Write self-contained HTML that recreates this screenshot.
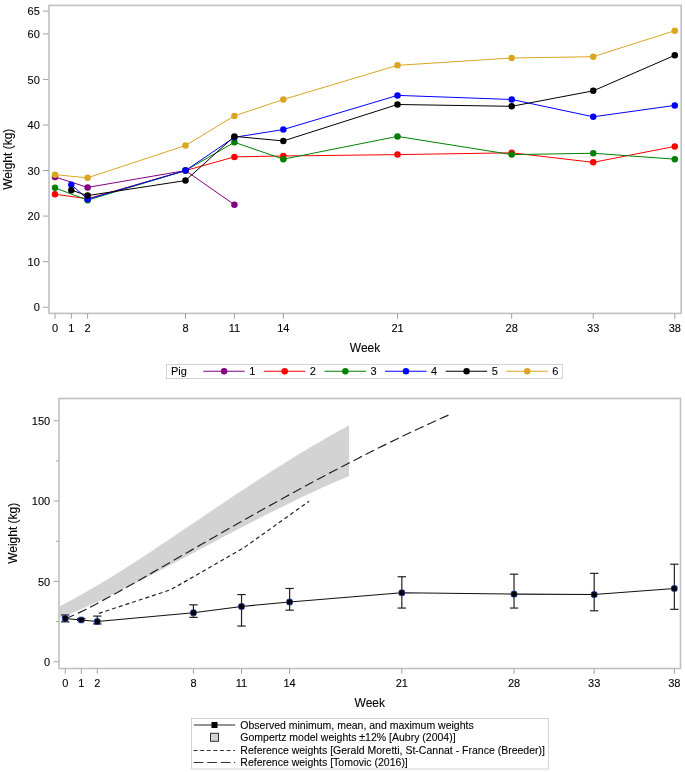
<!DOCTYPE html>
<html><head><meta charset="utf-8"><style>
html,body{margin:0;padding:0;background:#fff;}
body{width:685px;height:772px;overflow:hidden;}
svg{display:block;font-family:"Liberation Sans", sans-serif;will-change:transform;}
svg text{fill:#000;stroke:#000;stroke-width:0.1px;}
</style></head><body>
<svg width="685" height="772" viewBox="0 0 685 772">
<rect x="49.0" y="5.4" width="632.2" height="308.0" fill="none" stroke="#bcc0c6" stroke-width="1.6"/>
<line x1="43" y1="307.20" x2="48.5" y2="307.20" stroke="#9da2a8" stroke-width="1"/>
<text x="39.8" y="311.30" font-size="11" text-anchor="end">0</text>
<line x1="43" y1="261.65" x2="48.5" y2="261.65" stroke="#9da2a8" stroke-width="1"/>
<text x="39.8" y="265.75" font-size="11" text-anchor="end">10</text>
<line x1="43" y1="216.10" x2="48.5" y2="216.10" stroke="#9da2a8" stroke-width="1"/>
<text x="39.8" y="220.20" font-size="11" text-anchor="end">20</text>
<line x1="43" y1="170.55" x2="48.5" y2="170.55" stroke="#9da2a8" stroke-width="1"/>
<text x="39.8" y="174.65" font-size="11" text-anchor="end">30</text>
<line x1="43" y1="125.00" x2="48.5" y2="125.00" stroke="#9da2a8" stroke-width="1"/>
<text x="39.8" y="129.10" font-size="11" text-anchor="end">40</text>
<line x1="43" y1="79.45" x2="48.5" y2="79.45" stroke="#9da2a8" stroke-width="1"/>
<text x="39.8" y="83.55" font-size="11" text-anchor="end">50</text>
<line x1="43" y1="33.90" x2="48.5" y2="33.90" stroke="#9da2a8" stroke-width="1"/>
<text x="39.8" y="38.00" font-size="11" text-anchor="end">60</text>
<line x1="43" y1="11.12" x2="48.5" y2="11.12" stroke="#9da2a8" stroke-width="1"/>
<text x="39.8" y="15.22" font-size="11" text-anchor="end">65</text>
<line x1="55.00" y1="313.4" x2="55.00" y2="318.8" stroke="#9da2a8" stroke-width="1"/>
<text x="55.00" y="332.3" font-size="11" text-anchor="middle">0</text>
<line x1="71.31" y1="313.4" x2="71.31" y2="318.8" stroke="#9da2a8" stroke-width="1"/>
<text x="71.31" y="332.3" font-size="11" text-anchor="middle">1</text>
<line x1="87.62" y1="313.4" x2="87.62" y2="318.8" stroke="#9da2a8" stroke-width="1"/>
<text x="87.62" y="332.3" font-size="11" text-anchor="middle">2</text>
<line x1="185.48" y1="313.4" x2="185.48" y2="318.8" stroke="#9da2a8" stroke-width="1"/>
<text x="185.48" y="332.3" font-size="11" text-anchor="middle">8</text>
<line x1="234.41" y1="313.4" x2="234.41" y2="318.8" stroke="#9da2a8" stroke-width="1"/>
<text x="234.41" y="332.3" font-size="11" text-anchor="middle">11</text>
<line x1="283.34" y1="313.4" x2="283.34" y2="318.8" stroke="#9da2a8" stroke-width="1"/>
<text x="283.34" y="332.3" font-size="11" text-anchor="middle">14</text>
<line x1="397.51" y1="313.4" x2="397.51" y2="318.8" stroke="#9da2a8" stroke-width="1"/>
<text x="397.51" y="332.3" font-size="11" text-anchor="middle">21</text>
<line x1="511.68" y1="313.4" x2="511.68" y2="318.8" stroke="#9da2a8" stroke-width="1"/>
<text x="511.68" y="332.3" font-size="11" text-anchor="middle">28</text>
<line x1="593.23" y1="313.4" x2="593.23" y2="318.8" stroke="#9da2a8" stroke-width="1"/>
<text x="593.23" y="332.3" font-size="11" text-anchor="middle">33</text>
<line x1="674.78" y1="313.4" x2="674.78" y2="318.8" stroke="#9da2a8" stroke-width="1"/>
<text x="674.78" y="332.3" font-size="11" text-anchor="middle">38</text>
<text x="365" y="352" font-size="12" text-anchor="middle">Week</text>
<text transform="translate(12.3,159.2) rotate(-90)" font-size="12" text-anchor="middle">Weight (kg)</text>
<polyline points="55.00,176.93 87.62,187.40 185.48,170.55 234.41,204.71" fill="none" stroke="#800080" stroke-width="1.0"/>
<circle cx="55.00" cy="176.93" r="3.25" fill="#800080"/>
<circle cx="87.62" cy="187.40" r="3.25" fill="#800080"/>
<circle cx="185.48" cy="170.55" r="3.25" fill="#800080"/>
<circle cx="234.41" cy="204.71" r="3.25" fill="#800080"/>
<polyline points="55.00,194.24 87.62,198.79 185.48,170.55 234.41,156.88 283.34,155.97 397.51,154.61 511.68,152.79 593.23,162.35 674.78,146.41" fill="none" stroke="#ff0000" stroke-width="1.0"/>
<circle cx="55.00" cy="194.24" r="3.25" fill="#ff0000"/>
<circle cx="87.62" cy="198.79" r="3.25" fill="#ff0000"/>
<circle cx="185.48" cy="170.55" r="3.25" fill="#ff0000"/>
<circle cx="234.41" cy="156.88" r="3.25" fill="#ff0000"/>
<circle cx="283.34" cy="155.97" r="3.25" fill="#ff0000"/>
<circle cx="397.51" cy="154.61" r="3.25" fill="#ff0000"/>
<circle cx="511.68" cy="152.79" r="3.25" fill="#ff0000"/>
<circle cx="593.23" cy="162.35" r="3.25" fill="#ff0000"/>
<circle cx="674.78" cy="146.41" r="3.25" fill="#ff0000"/>
<polyline points="55.00,187.86 87.62,200.16 185.48,170.55 234.41,142.31 283.34,159.16 397.51,136.39 511.68,154.61 593.23,153.24 674.78,159.16" fill="none" stroke="#008000" stroke-width="1.0"/>
<circle cx="55.00" cy="187.86" r="3.25" fill="#008000"/>
<circle cx="87.62" cy="200.16" r="3.25" fill="#008000"/>
<circle cx="185.48" cy="170.55" r="3.25" fill="#008000"/>
<circle cx="234.41" cy="142.31" r="3.25" fill="#008000"/>
<circle cx="283.34" cy="159.16" r="3.25" fill="#008000"/>
<circle cx="397.51" cy="136.39" r="3.25" fill="#008000"/>
<circle cx="511.68" cy="154.61" r="3.25" fill="#008000"/>
<circle cx="593.23" cy="153.24" r="3.25" fill="#008000"/>
<circle cx="674.78" cy="159.16" r="3.25" fill="#008000"/>
<polyline points="71.31,184.67 87.62,199.25 185.48,170.55 234.41,137.30 283.34,129.56 397.51,95.39 511.68,99.49 593.23,116.80 674.78,105.41" fill="none" stroke="#0000ff" stroke-width="1.0"/>
<circle cx="71.31" cy="184.67" r="3.25" fill="#0000ff"/>
<circle cx="87.62" cy="199.25" r="3.25" fill="#0000ff"/>
<circle cx="185.48" cy="170.55" r="3.25" fill="#0000ff"/>
<circle cx="234.41" cy="137.30" r="3.25" fill="#0000ff"/>
<circle cx="283.34" cy="129.56" r="3.25" fill="#0000ff"/>
<circle cx="397.51" cy="95.39" r="3.25" fill="#0000ff"/>
<circle cx="511.68" cy="99.49" r="3.25" fill="#0000ff"/>
<circle cx="593.23" cy="116.80" r="3.25" fill="#0000ff"/>
<circle cx="674.78" cy="105.41" r="3.25" fill="#0000ff"/>
<polyline points="71.31,190.14 87.62,195.60 185.48,180.57 234.41,136.39 283.34,140.94 397.51,104.50 511.68,106.32 593.23,90.84 674.78,55.31" fill="none" stroke="#000000" stroke-width="1.0"/>
<circle cx="71.31" cy="190.14" r="3.25" fill="#000000"/>
<circle cx="87.62" cy="195.60" r="3.25" fill="#000000"/>
<circle cx="185.48" cy="180.57" r="3.25" fill="#000000"/>
<circle cx="234.41" cy="136.39" r="3.25" fill="#000000"/>
<circle cx="283.34" cy="140.94" r="3.25" fill="#000000"/>
<circle cx="397.51" cy="104.50" r="3.25" fill="#000000"/>
<circle cx="511.68" cy="106.32" r="3.25" fill="#000000"/>
<circle cx="593.23" cy="90.84" r="3.25" fill="#000000"/>
<circle cx="674.78" cy="55.31" r="3.25" fill="#000000"/>
<polyline points="55.00,174.65 87.62,177.84 185.48,145.50 234.41,115.89 283.34,99.49 397.51,65.33 511.68,58.04 593.23,56.68 674.78,30.71" fill="none" stroke="#daa520" stroke-width="1.0"/>
<circle cx="55.00" cy="174.65" r="3.25" fill="#daa520"/>
<circle cx="87.62" cy="177.84" r="3.25" fill="#daa520"/>
<circle cx="185.48" cy="145.50" r="3.25" fill="#daa520"/>
<circle cx="234.41" cy="115.89" r="3.25" fill="#daa520"/>
<circle cx="283.34" cy="99.49" r="3.25" fill="#daa520"/>
<circle cx="397.51" cy="65.33" r="3.25" fill="#daa520"/>
<circle cx="511.68" cy="58.04" r="3.25" fill="#daa520"/>
<circle cx="593.23" cy="56.68" r="3.25" fill="#daa520"/>
<circle cx="674.78" cy="30.71" r="3.25" fill="#daa520"/>
<rect x="166.5" y="364.5" width="396" height="14" fill="none" stroke="#d4d4d4" stroke-width="1"/>
<text x="171" y="374.9" font-size="11">Pig</text>
<line x1="203.20" y1="371.2" x2="244.70" y2="371.2" stroke="#800080" stroke-width="1.1"/>
<circle cx="224.10" cy="371.2" r="3.25" fill="#800080"/>
<text x="249.20" y="374.9" font-size="11">1</text>
<line x1="263.82" y1="371.2" x2="305.32" y2="371.2" stroke="#ff0000" stroke-width="1.1"/>
<circle cx="284.72" cy="371.2" r="3.25" fill="#ff0000"/>
<text x="309.82" y="374.9" font-size="11">2</text>
<line x1="324.44" y1="371.2" x2="365.94" y2="371.2" stroke="#008000" stroke-width="1.1"/>
<circle cx="345.34" cy="371.2" r="3.25" fill="#008000"/>
<text x="370.44" y="374.9" font-size="11">3</text>
<line x1="385.06" y1="371.2" x2="426.56" y2="371.2" stroke="#0000ff" stroke-width="1.1"/>
<circle cx="405.96" cy="371.2" r="3.25" fill="#0000ff"/>
<text x="431.06" y="374.9" font-size="11">4</text>
<line x1="445.68" y1="371.2" x2="487.18" y2="371.2" stroke="#000000" stroke-width="1.1"/>
<circle cx="466.58" cy="371.2" r="3.25" fill="#000000"/>
<text x="491.68" y="374.9" font-size="11">5</text>
<line x1="506.30" y1="371.2" x2="547.80" y2="371.2" stroke="#daa520" stroke-width="1.1"/>
<circle cx="527.20" cy="371.2" r="3.25" fill="#daa520"/>
<text x="552.30" y="374.9" font-size="11">6</text>
<path d="M59.50,606.44 L64.33,603.92 L69.15,601.35 L73.97,598.73 L78.80,596.07 L83.62,593.35 L88.45,590.59 L93.28,587.79 L98.10,584.94 L102.93,582.05 L107.75,579.13 L112.58,576.16 L117.40,573.17 L122.23,570.14 L127.05,567.08 L131.88,564.00 L136.70,560.88 L141.53,557.75 L146.35,554.59 L151.18,551.41 L156.00,548.22 L160.82,545.01 L165.65,541.78 L170.48,538.55 L175.30,535.30 L180.12,532.05 L184.95,528.79 L189.78,525.53 L194.60,522.26 L199.43,519.00 L204.25,515.74 L209.07,512.48 L213.90,509.22 L218.73,505.97 L223.55,502.73 L228.38,499.50 L233.20,496.28 L238.02,493.08 L242.85,489.88 L247.68,486.71 L252.50,483.55 L257.32,480.40 L262.15,477.28 L266.97,474.18 L271.80,471.09 L276.62,468.03 L281.45,465.00 L286.27,461.98 L291.10,459.00 L295.93,456.03 L300.75,453.10 L305.57,450.19 L310.40,447.31 L315.23,444.46 L320.05,441.64 L324.88,438.84 L329.70,436.08 L334.52,433.35 L339.35,430.65 L344.18,427.98 L349.00,425.34 L349.00,475.99 L344.18,478.06 L339.35,480.16 L334.52,482.28 L329.70,484.43 L324.88,486.60 L320.05,488.79 L315.23,491.01 L310.40,493.25 L305.57,495.51 L300.75,497.80 L295.93,500.11 L291.10,502.43 L286.27,504.78 L281.45,507.15 L276.62,509.53 L271.80,511.94 L266.97,514.36 L262.15,516.80 L257.32,519.25 L252.50,521.72 L247.68,524.21 L242.85,526.70 L238.02,529.21 L233.20,531.73 L228.38,534.26 L223.55,536.80 L218.73,539.34 L213.90,541.90 L209.07,544.45 L204.25,547.01 L199.43,549.58 L194.60,552.14 L189.78,554.71 L184.95,557.27 L180.12,559.83 L175.30,562.39 L170.48,564.94 L165.65,567.48 L160.82,570.01 L156.00,572.54 L151.18,575.05 L146.35,577.54 L141.53,580.02 L136.70,582.49 L131.88,584.93 L127.05,587.36 L122.23,589.76 L117.40,592.14 L112.58,594.49 L107.75,596.82 L102.93,599.12 L98.10,601.39 L93.28,603.62 L88.45,605.83 L83.62,608.00 L78.80,610.13 L73.97,612.23 L69.15,614.28 L64.33,616.30 L59.50,618.28 Z" fill="#d3d3d3"/>
<rect x="59.0" y="398.5" width="621.5" height="270.0" fill="none" stroke="#bcc0c6" stroke-width="1.6"/>
<line x1="53.6" y1="661.70" x2="58.5" y2="661.70" stroke="#9da2a8" stroke-width="1"/>
<text x="50.2" y="665.80" font-size="11" text-anchor="end">0</text>
<line x1="56" y1="621.55" x2="58.5" y2="621.55" stroke="#9da2a8" stroke-width="1"/>
<line x1="53.6" y1="581.40" x2="58.5" y2="581.40" stroke="#9da2a8" stroke-width="1"/>
<text x="50.2" y="585.50" font-size="11" text-anchor="end">50</text>
<line x1="56" y1="541.25" x2="58.5" y2="541.25" stroke="#9da2a8" stroke-width="1"/>
<line x1="53.6" y1="501.10" x2="58.5" y2="501.10" stroke="#9da2a8" stroke-width="1"/>
<text x="50.2" y="505.20" font-size="11" text-anchor="end">100</text>
<line x1="56" y1="460.95" x2="58.5" y2="460.95" stroke="#9da2a8" stroke-width="1"/>
<line x1="53.6" y1="420.80" x2="58.5" y2="420.80" stroke="#9da2a8" stroke-width="1"/>
<text x="50.2" y="424.90" font-size="11" text-anchor="end">150</text>
<line x1="65.20" y1="668.5" x2="65.20" y2="673.8" stroke="#9da2a8" stroke-width="1"/>
<text x="65.20" y="687" font-size="11" text-anchor="middle">0</text>
<line x1="81.23" y1="668.5" x2="81.23" y2="673.8" stroke="#9da2a8" stroke-width="1"/>
<text x="81.23" y="687" font-size="11" text-anchor="middle">1</text>
<line x1="97.26" y1="668.5" x2="97.26" y2="673.8" stroke="#9da2a8" stroke-width="1"/>
<text x="97.26" y="687" font-size="11" text-anchor="middle">2</text>
<line x1="193.44" y1="668.5" x2="193.44" y2="673.8" stroke="#9da2a8" stroke-width="1"/>
<text x="193.44" y="687" font-size="11" text-anchor="middle">8</text>
<line x1="241.53" y1="668.5" x2="241.53" y2="673.8" stroke="#9da2a8" stroke-width="1"/>
<text x="241.53" y="687" font-size="11" text-anchor="middle">11</text>
<line x1="289.62" y1="668.5" x2="289.62" y2="673.8" stroke="#9da2a8" stroke-width="1"/>
<text x="289.62" y="687" font-size="11" text-anchor="middle">14</text>
<line x1="401.83" y1="668.5" x2="401.83" y2="673.8" stroke="#9da2a8" stroke-width="1"/>
<text x="401.83" y="687" font-size="11" text-anchor="middle">21</text>
<line x1="514.04" y1="668.5" x2="514.04" y2="673.8" stroke="#9da2a8" stroke-width="1"/>
<text x="514.04" y="687" font-size="11" text-anchor="middle">28</text>
<line x1="594.19" y1="668.5" x2="594.19" y2="673.8" stroke="#9da2a8" stroke-width="1"/>
<text x="594.19" y="687" font-size="11" text-anchor="middle">33</text>
<line x1="674.34" y1="668.5" x2="674.34" y2="673.8" stroke="#9da2a8" stroke-width="1"/>
<text x="674.34" y="687" font-size="11" text-anchor="middle">38</text>
<text x="369.8" y="706.8" font-size="12" text-anchor="middle">Week</text>
<text transform="translate(16.8,533.3) rotate(-90)" font-size="12" text-anchor="middle">Weight (kg)</text>
<path d="M65.20,618.71 L70.07,616.77 L74.94,614.65 L79.81,612.38 L84.68,609.98 L89.55,607.48 L94.42,604.91 L99.29,602.29 L104.16,599.64 L109.03,596.99 L113.90,594.33 L118.77,591.67 L123.64,588.98 L128.51,586.27 L133.37,583.53 L138.24,580.77 L143.11,577.99 L147.98,575.20 L152.85,572.39 L157.72,569.58 L162.59,566.76 L167.46,563.94 L172.33,561.13 L177.20,558.31 L182.07,555.50 L186.94,552.69 L191.81,549.88 L196.68,547.07 L201.55,544.27 L206.42,541.48 L211.29,538.68 L216.16,535.90 L221.03,533.11 L225.90,530.33 L230.77,527.56 L235.64,524.80 L240.51,522.04 L245.38,519.28 L250.25,516.54 L255.12,513.80 L259.98,511.07 L264.85,508.35 L269.72,505.64 L274.59,502.93 L279.46,500.24 L284.33,497.55 L289.20,494.87 L294.07,492.21 L298.94,489.55 L303.81,486.91 L308.68,484.28 L313.55,481.66 L318.42,479.05 L323.29,476.45 L328.16,473.87 L333.03,471.30 L337.90,468.74 L342.77,466.20 L347.64,463.67 L352.51,461.16 L357.38,458.66 L362.25,456.17 L367.12,453.71 L371.99,451.25 L376.86,448.82 L381.73,446.40 L386.59,444.00 L391.46,441.61 L396.33,439.25 L401.20,436.90 L406.07,434.57 L410.94,432.26 L415.81,429.96 L420.68,427.69 L425.55,425.44 L430.42,423.21 L435.29,421.00 L440.16,418.80 L445.03,416.63 L449.90,414.49" fill="none" stroke="#222" stroke-width="1.2" stroke-dasharray="9.5 4.2"/>
<path d="M98.80,613.40 L170.60,589.80 L243.80,547.80 L309.10,501.20" fill="none" stroke="#222" stroke-width="1.2" stroke-dasharray="4 3"/>
<line x1="65.20" y1="621.87" x2="65.20" y2="614.97" stroke="#222" stroke-width="1.2"/>
<line x1="61.00" y1="621.87" x2="69.40" y2="621.87" stroke="#222" stroke-width="1.2"/>
<line x1="61.00" y1="614.97" x2="69.40" y2="614.97" stroke="#222" stroke-width="1.2"/>
<line x1="81.23" y1="620.43" x2="81.23" y2="618.50" stroke="#222" stroke-width="1.2"/>
<line x1="77.03" y1="620.43" x2="85.43" y2="620.43" stroke="#222" stroke-width="1.2"/>
<line x1="77.03" y1="618.50" x2="85.43" y2="618.50" stroke="#222" stroke-width="1.2"/>
<line x1="97.26" y1="623.96" x2="97.26" y2="616.09" stroke="#222" stroke-width="1.2"/>
<line x1="93.06" y1="623.96" x2="101.46" y2="623.96" stroke="#222" stroke-width="1.2"/>
<line x1="93.06" y1="616.09" x2="101.46" y2="616.09" stroke="#222" stroke-width="1.2"/>
<line x1="193.44" y1="617.37" x2="193.44" y2="604.85" stroke="#222" stroke-width="1.2"/>
<line x1="189.24" y1="617.37" x2="197.64" y2="617.37" stroke="#222" stroke-width="1.2"/>
<line x1="189.24" y1="604.85" x2="197.64" y2="604.85" stroke="#222" stroke-width="1.2"/>
<line x1="241.53" y1="626.05" x2="241.53" y2="594.57" stroke="#222" stroke-width="1.2"/>
<line x1="237.33" y1="626.05" x2="245.73" y2="626.05" stroke="#222" stroke-width="1.2"/>
<line x1="237.33" y1="594.57" x2="245.73" y2="594.57" stroke="#222" stroke-width="1.2"/>
<line x1="289.62" y1="610.15" x2="289.62" y2="588.47" stroke="#222" stroke-width="1.2"/>
<line x1="285.42" y1="610.15" x2="293.82" y2="610.15" stroke="#222" stroke-width="1.2"/>
<line x1="285.42" y1="588.47" x2="293.82" y2="588.47" stroke="#222" stroke-width="1.2"/>
<line x1="401.83" y1="608.06" x2="401.83" y2="576.74" stroke="#222" stroke-width="1.2"/>
<line x1="397.63" y1="608.06" x2="406.03" y2="608.06" stroke="#222" stroke-width="1.2"/>
<line x1="397.63" y1="576.74" x2="406.03" y2="576.74" stroke="#222" stroke-width="1.2"/>
<line x1="514.04" y1="608.06" x2="514.04" y2="574.17" stroke="#222" stroke-width="1.2"/>
<line x1="509.84" y1="608.06" x2="518.24" y2="608.06" stroke="#222" stroke-width="1.2"/>
<line x1="509.84" y1="574.17" x2="518.24" y2="574.17" stroke="#222" stroke-width="1.2"/>
<line x1="594.19" y1="610.79" x2="594.19" y2="573.37" stroke="#222" stroke-width="1.2"/>
<line x1="589.99" y1="610.79" x2="598.39" y2="610.79" stroke="#222" stroke-width="1.2"/>
<line x1="589.99" y1="573.37" x2="598.39" y2="573.37" stroke="#222" stroke-width="1.2"/>
<line x1="674.34" y1="609.34" x2="674.34" y2="564.22" stroke="#222" stroke-width="1.2"/>
<line x1="670.14" y1="609.34" x2="678.54" y2="609.34" stroke="#222" stroke-width="1.2"/>
<line x1="670.14" y1="564.22" x2="678.54" y2="564.22" stroke="#222" stroke-width="1.2"/>
<polyline points="65.20,618.50 81.23,619.94 97.26,621.55 193.44,612.72 241.53,606.45 289.62,601.96 401.83,592.80 514.04,594.09 594.19,594.57 674.34,588.47" fill="none" stroke="#111" stroke-width="1.1"/>
<rect x="62.40" y="615.70" width="5.6" height="5.6" rx="1.5" fill="#000" stroke="#0a2a8a" stroke-width="0.8"/>
<rect x="78.43" y="617.14" width="5.6" height="5.6" rx="1.5" fill="#000" stroke="#0a2a8a" stroke-width="0.8"/>
<rect x="94.46" y="618.75" width="5.6" height="5.6" rx="1.5" fill="#000" stroke="#0a2a8a" stroke-width="0.8"/>
<rect x="190.64" y="609.92" width="5.6" height="5.6" rx="1.5" fill="#000" stroke="#0a2a8a" stroke-width="0.8"/>
<rect x="238.73" y="603.65" width="5.6" height="5.6" rx="1.5" fill="#000" stroke="#0a2a8a" stroke-width="0.8"/>
<rect x="286.82" y="599.16" width="5.6" height="5.6" rx="1.5" fill="#000" stroke="#0a2a8a" stroke-width="0.8"/>
<rect x="399.03" y="590.00" width="5.6" height="5.6" rx="1.5" fill="#000" stroke="#0a2a8a" stroke-width="0.8"/>
<rect x="511.24" y="591.29" width="5.6" height="5.6" rx="1.5" fill="#000" stroke="#0a2a8a" stroke-width="0.8"/>
<rect x="591.39" y="591.77" width="5.6" height="5.6" rx="1.5" fill="#000" stroke="#0a2a8a" stroke-width="0.8"/>
<rect x="671.54" y="585.67" width="5.6" height="5.6" rx="1.5" fill="#000" stroke="#0a2a8a" stroke-width="0.8"/>
<rect x="191.5" y="718.5" width="357" height="50.5" fill="none" stroke="#d4d4d4" stroke-width="1"/>
<text x="240.3" y="728.8" font-size="10.5">Observed minimum, mean, and maximum weights</text>
<text x="240.3" y="740.8" font-size="10.5">Gompertz model weights ±12% [Aubry (2004)]</text>
<text x="240.3" y="753.6" font-size="10.5">Reference weights [Gerald Moretti, St-Cannat - France (Breeder)]</text>
<text x="240.3" y="765.7" font-size="10.5">Reference weights [Tomovic (2016)]</text>
<line x1="193.9" y1="725.0" x2="235.2" y2="725.0" stroke="#6e6e6e" stroke-width="1.5"/>
<rect x="211.5" y="722.0" width="6" height="6" fill="#000"/>
<rect x="210.5" y="733.3" width="8" height="8" fill="#d3d3d3" stroke="#333" stroke-width="1"/>
<line x1="193.6" y1="750.5" x2="235" y2="750.5" stroke="#333" stroke-width="1.1" stroke-dasharray="3.9 2.7"/>
<line x1="193.6" y1="762.5" x2="235" y2="762.5" stroke="#333" stroke-width="1.1" stroke-dasharray="9.8 3.8"/>
<line x1="234.2" y1="762.5" x2="235.2" y2="762.5" stroke="#333" stroke-width="1.1"/>
</svg>
</body></html>
